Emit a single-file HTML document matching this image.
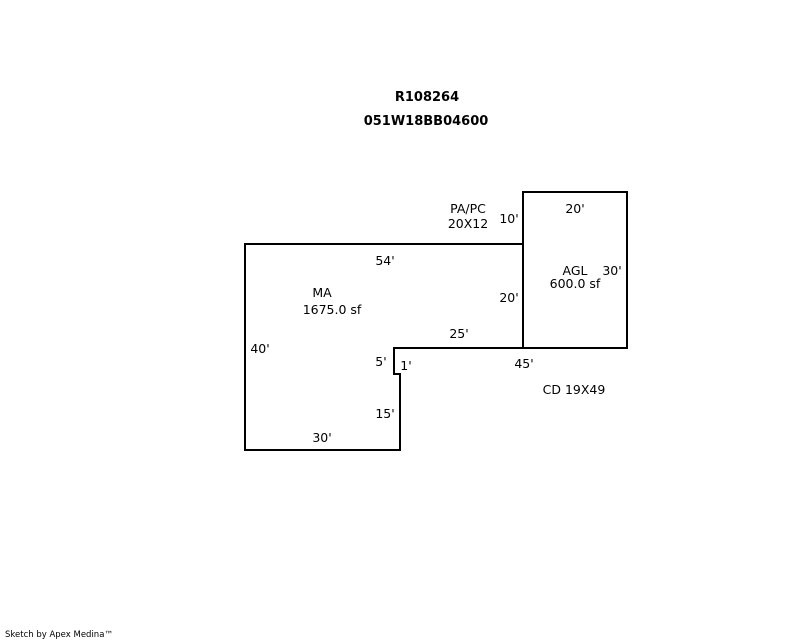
<!DOCTYPE html>
<html><head><style>body{margin:0;background:#fff}svg{display:block}text{font-family:"DejaVu Sans","Liberation Sans",sans-serif;font-size:12.5px;fill:#000}</style></head>
<body>
<svg width="800" height="640" xmlns="http://www.w3.org/2000/svg">
<g fill="none" stroke="#000" stroke-width="2">
<polyline points="523,244 245,244 245,450 400,450 400,374 394,374 394,348 627,348 627,192 523,192 523,348"/>
</g>
<text x="427" y="101" text-anchor="middle" font-weight="bold" style="font-size:13px">R108264</text>
<text x="426" y="125" text-anchor="middle" font-weight="bold" style="font-size:13px">051W18BB04600</text>
<text x="468" y="213" text-anchor="middle">PA/PC</text>
<text x="468" y="228" text-anchor="middle">20X12</text>
<text x="509" y="223" text-anchor="middle">10'</text>
<text x="575" y="213" text-anchor="middle">20'</text>
<text x="385" y="265" text-anchor="middle">54'</text>
<text x="575" y="275" text-anchor="middle">AGL</text>
<text x="612" y="275" text-anchor="middle">30'</text>
<text x="575" y="288" text-anchor="middle">600.0 sf</text>
<text x="322" y="297" text-anchor="middle">MA</text>
<text x="332" y="314" text-anchor="middle">1675.0 sf</text>
<text x="509" y="302" text-anchor="middle">20'</text>
<text x="459" y="338" text-anchor="middle">25'</text>
<text x="260" y="353" text-anchor="middle">40'</text>
<text x="381" y="366" text-anchor="middle">5'</text>
<text x="406" y="370" text-anchor="middle">1'</text>
<text x="524" y="368" text-anchor="middle">45'</text>
<text x="574" y="394" text-anchor="middle">CD 19X49</text>
<text x="385" y="418" text-anchor="middle">15'</text>
<text x="322" y="442" text-anchor="middle">30'</text>
<text x="5" y="637" style="font-size:8.5px">Sketch by Apex Medina™</text>
</svg>
</body></html>
